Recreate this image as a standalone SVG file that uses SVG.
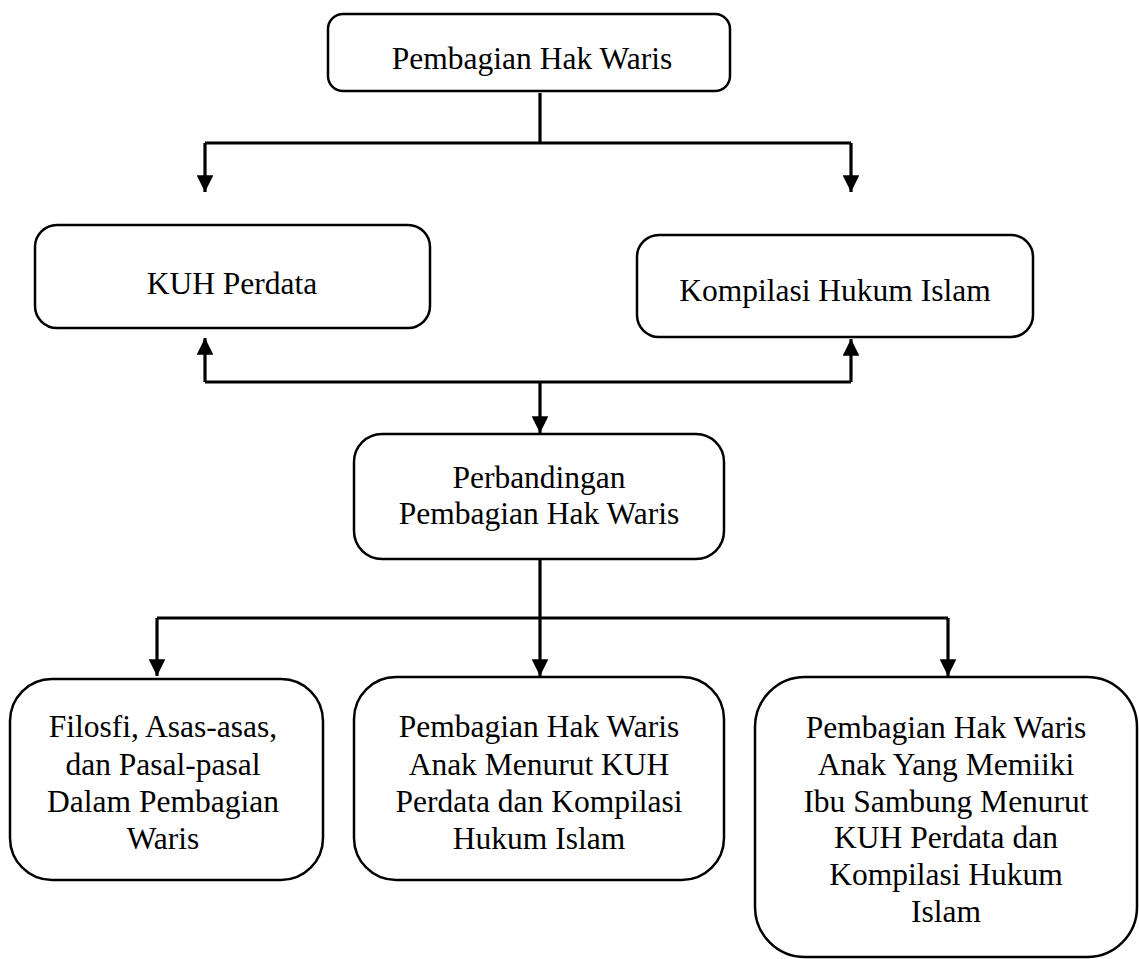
<svg xmlns="http://www.w3.org/2000/svg" width="1139" height="959" viewBox="0 0 1139 959">
<style>
.box{fill:#fff;stroke:#000;stroke-width:2.5}
.t{font-family:"Liberation Serif","Times New Roman",serif;font-size:31.5px;fill:#000;text-anchor:middle}
.c{fill:none;stroke:#000;stroke-width:3.2}
</style>
<defs>
<marker id="ah" viewBox="0 0 10 10" refX="10" refY="5" markerWidth="5.2" markerHeight="5.2" markerUnits="strokeWidth" orient="auto">
<path d="M0,0 L10,5 L0,10 Z" fill="#000"/>
</marker>
</defs>
<rect width="1139" height="959" fill="#fff"/>
<g id="connectors">
<path class="c" d="M540,93 V143"/>
<path class="c" d="M205,143 H851"/>
<path class="c" d="M205,143 V192" marker-end="url(#ah)"/>
<path class="c" d="M851,143 V192" marker-end="url(#ah)"/>
<path class="c" d="M205,382 H851"/>
<path class="c" d="M205,382 V338" marker-end="url(#ah)"/>
<path class="c" d="M851,382 V339" marker-end="url(#ah)"/>
<path class="c" d="M540,382 V433" marker-end="url(#ah)"/>
<path class="c" d="M540,560 V618"/>
<path class="c" d="M157,618 H948"/>
<path class="c" d="M157,618 V676" marker-end="url(#ah)"/>
<path class="c" d="M540,618 V676" marker-end="url(#ah)"/>
<path class="c" d="M948,618 V676" marker-end="url(#ah)"/>
</g>
<g id="n1">
<rect class="box" x="328" y="14" width="402" height="77" rx="15"/>
<text class="t" x="532" y="69">Pembagian Hak Waris</text>
</g>
<g id="n2">
<rect class="box" x="35" y="225" width="395" height="103" rx="22"/>
<text class="t" x="232" y="294">KUH Perdata</text>
</g>
<g id="n3">
<rect class="box" x="637" y="235" width="396" height="102" rx="22"/>
<text class="t" x="835" y="301">Kompilasi Hukum Islam</text>
</g>
<g id="n4">
<rect class="box" x="354" y="434" width="370" height="125" rx="28"/>
<text class="t" x="539" y="488">Perbandingan</text>
<text class="t" x="539" y="524">Pembagian Hak Waris</text>
</g>
<g id="n5">
<rect class="box" x="10" y="679" width="313" height="201" rx="42"/>
<text class="t" x="163" y="737">Filosfi, Asas-asas,</text>
<text class="t" x="163" y="775">dan Pasal-pasal</text>
<text class="t" x="163" y="812">Dalam Pembagian</text>
<text class="t" x="163" y="849">Waris</text>
</g>
<g id="n6">
<rect class="box" x="354" y="677" width="370" height="203" rx="42"/>
<text class="t" x="539" y="737">Pembagian Hak Waris</text>
<text class="t" x="539" y="775">Anak Menurut KUH</text>
<text class="t" x="539" y="812">Perdata dan Kompilasi</text>
<text class="t" x="539" y="849">Hukum Islam</text>
</g>
<g id="n7">
<rect class="box" x="755" y="677" width="382" height="280" rx="50"/>
<text class="t" x="946" y="738">Pembagian Hak Waris</text>
<text class="t" x="946" y="775">Anak Yang Memiiki</text>
<text class="t" x="946" y="812">Ibu Sambung Menurut</text>
<text class="t" x="946" y="848">KUH Perdata dan</text>
<text class="t" x="946" y="885">Kompilasi Hukum</text>
<text class="t" x="946" y="922">Islam</text>
</g>
</svg>
